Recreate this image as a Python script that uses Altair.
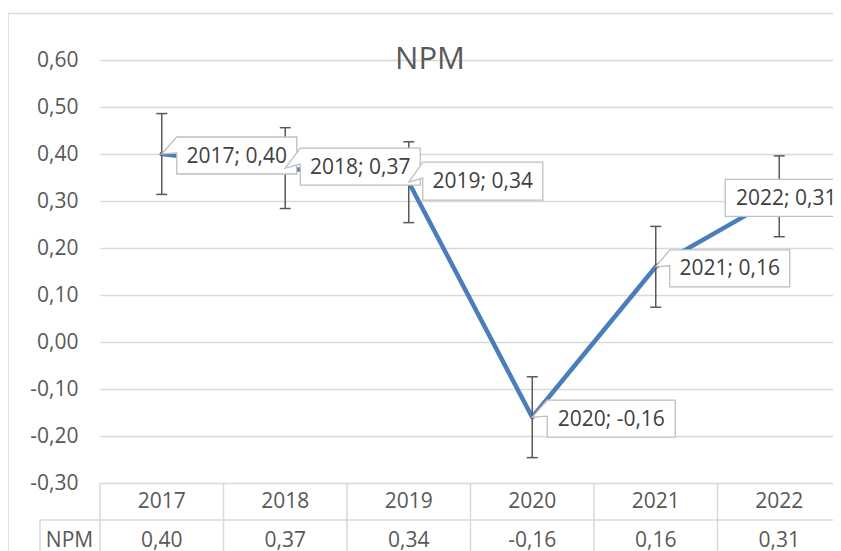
import altair as alt
import pandas as pd

# ---------------- data ----------------
YEARS = [2017, 2018, 2019, 2020, 2021, 2022]
NPM = [0.40, 0.37, 0.34, -0.16, 0.16, 0.31]
ERR = [0.086, 0.086, 0.086, 0.086, 0.086, 0.086]
Y_TICKS = [-0.3, -0.2, -0.1, 0.0, 0.1, 0.2, 0.3, 0.4, 0.5, 0.6]
SERIES = "NPM"
TITLE = "NPM"


def fmt(v):
    return f"{v:.2f}".replace(".", ",")


df = pd.DataFrame({"year": YEARS, "npm": NPM, "err": ERR})
df["lo"] = df["npm"] - df["err"]
df["hi"] = df["npm"] + df["err"]
df["ystr"] = [str(y) for y in YEARS]
df["vstr"] = [fmt(v) for v in NPM]
df["label"] = [f"{y}; {fmt(v)}" for y, v in zip(YEARS, NPM)]
edges = pd.DataFrame({"edge": [y - 0.5 for y in YEARS] + [YEARS[-1] + 0.5]})
one = pd.DataFrame({"k": [0]})

# ---------------- style ----------------
FONT = "Open Sans"
GRID = "#d9d9d9"
TXT = "#595959"
LBL = "#404040"
BLUE = "#4A7EBB"
W, H = 741, 423

# callout geometry relative to the data point (left, right, top, bottom) in px
CALLOUT = {
    2017: (15, 135, -17, 20),
    2018: (15, 135, -20, 17),
    2019: (14, 134, -20, 18),
    2020: (15, 143, -17, 20),
    2021: (14, 134, -17, 20),
    2022: (-54, 68, -17, 20),
}


def callout_path(L, R, T, B):
    if L > 0:
        return f"M0,0 L{L},{T} L{R},{T} L{R},{B} L{L},{B} L{L},{T + 16} Z"
    return f"M{L},{T} L{R},{T} L{R},{B} L{L},{B} Z"


x_scale = alt.Scale(domain=[YEARS[0] - 0.5, YEARS[-1] + 0.5], nice=False, zero=False)
y_scale = alt.Scale(domain=[Y_TICKS[0], Y_TICKS[-1]], nice=False, zero=False)
X = alt.X("year:Q", scale=x_scale, axis=None)

y_axis = alt.Axis(
    values=Y_TICKS,
    title=None,
    grid=True,
    gridColor=GRID,
    gridWidth=1.5,
    domain=False,
    ticks=False,
    labelFont=FONT,
    labelFontSize=21,
    labelColor=TXT,
    labelPadding=22,
    labelExpr="replace(replace(format(datum.value, '.2f'), '.', ','), '\u2212', '-')",
)


def Y(field):
    return alt.Y(field, scale=y_scale, axis=y_axis, title=None)


border = alt.Chart(one).mark_rect(
    fill="white", fillOpacity=0, stroke=GRID, strokeWidth=1.5
).encode(
    x=alt.value(-92), x2=alt.value(W + 60), y=alt.value(-46.5), y2=alt.value(H + 150)
)

line = alt.Chart(df).mark_line(
    color=BLUE, strokeWidth=4.5, strokeCap="round", strokeJoin="round"
).encode(x=X, y=Y("npm:Q"))

err_bar = alt.Chart(df).mark_rule(color=TXT, strokeWidth=1.5).encode(
    x=X, y=Y("lo:Q"), y2="hi:Q"
)
cap_hi = alt.Chart(df).mark_rule(
    color=TXT, strokeWidth=1.5, xOffset=-5.5, x2Offset=5.5
).encode(x=X, x2="year:Q", y=Y("hi:Q"))
cap_lo = alt.Chart(df).mark_rule(
    color=TXT, strokeWidth=1.5, xOffset=-5.5, x2Offset=5.5
).encode(x=X, x2="year:Q", y=Y("lo:Q"))

layers = [border, line, err_bar, cap_hi, cap_lo]

for yr in YEARS:
    L, R, T, B = CALLOUT[yr]
    box = alt.Chart(df).transform_filter(alt.datum.year == yr).mark_point(
        shape=callout_path(L, R, T, B),
        size=4,
        filled=True,
        fill="white",
        stroke="#bfbfbf",
        strokeWidth=1.3,
        opacity=1,
    ).encode(x=X, y=Y("npm:Q"))
    txt = alt.Chart(df).transform_filter(alt.datum.year == yr).mark_text(
        font=FONT,
        fontSize=21,
        color=LBL,
        align="center",
        baseline="middle",
        dx=(L + R) / 2,
        dy=(T + B) / 2 + 1,
    ).encode(x=X, y=Y("npm:Q"), text="label:N")
    layers += [box, txt]

# ---------------- data table ----------------
v_lines = alt.Chart(edges).mark_rule(color=GRID, strokeWidth=1.5).encode(
    x=alt.X("edge:Q", scale=x_scale, axis=None), y=alt.value(H), y2=alt.value(H + 80)
)
h_sep = alt.Chart(one).mark_rule(color=GRID, strokeWidth=1.5).encode(
    x=alt.value(-60), x2=alt.value(W), y=alt.value(H + 37)
)
left_line = alt.Chart(one).mark_rule(color=GRID, strokeWidth=1.5).encode(
    x=alt.value(-60), y=alt.value(H + 37), y2=alt.value(H + 80)
)
hdr = alt.Chart(df).mark_text(
    font=FONT, fontSize=21, color=TXT, align="center", baseline="middle"
).encode(x=X, y=alt.value(H + 19), text="ystr:N")
vals = alt.Chart(df).mark_text(
    font=FONT, fontSize=21, color=TXT, align="center", baseline="middle"
).encode(x=X, y=alt.value(H + 57.5), text="vstr:N")
series_lbl = alt.Chart(one).mark_text(
    text=SERIES, font=FONT, fontSize=21, color=TXT, align="center", baseline="middle"
).encode(x=alt.value(-30.5), y=alt.value(H + 57.5))

title = alt.Chart(one).mark_text(
    text=TITLE, font=FONT, fontSize=31, color=TXT, align="center", baseline="alphabetic"
).encode(x=alt.value(330), y=alt.value(9))

layers += [v_lines, h_sep, left_line, hdr, vals, series_lbl, title]

chart = alt.layer(*layers).properties(
    width=W,
    height=H,
    padding={"left": 92, "top": 52, "right": -8, "bottom": 68},
    autosize=alt.AutoSizeParams(type="none"),
    background="white",
).configure_view(stroke=None)

chart.save("out.html", embed_options={"renderer": "svg", "actions": False})
